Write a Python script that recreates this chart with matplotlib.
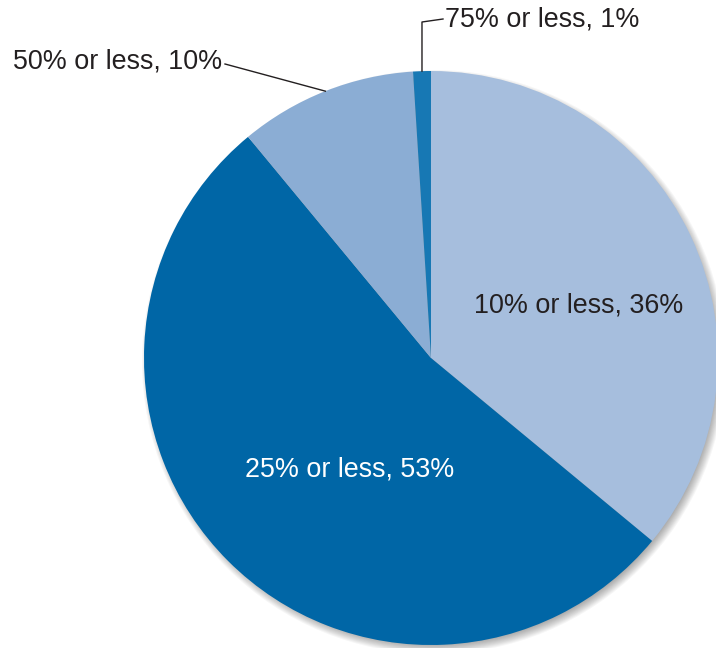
import numpy as np
import matplotlib
matplotlib.use("Agg")
import matplotlib.pyplot as plt

plt.rcParams['font.family'] = ['Liberation Sans', 'DejaVu Sans']

categories = ["10% or less", "25% or less", "50% or less", "75% or less"]
shares = [36, 53, 10, 1]
colors = ["#a6bedd", "#0066a6", "#8badd4", "#1778b4"]
text_color = "#231f20"

W, H = 716, 648
cx, cy, r = 431, 290, 287

fig = plt.figure(figsize=(W / 100, H / 100), dpi=100)
ax = fig.add_axes([0, 0, 1, 1])

# soft drop shadow toward the lower right
for k in range(10):
    ax.add_patch(plt.Circle((cx + 3, cy - 4), r + 5 - k, color="black",
                            alpha=0.035, lw=0, zorder=0))

wedges, _ = ax.pie(shares, colors=colors, startangle=90, counterclock=False,
                   center=(cx, cy), radius=r, frame=True,
                   wedgeprops=dict(linewidth=0))
for w in wedges:
    w.set_zorder(2)
ax.set_xlim(0, W)
ax.set_ylim(0, H)
ax.set_aspect("equal")
ax.axis("off")

fs = 19.4
labels = [f"{c}, {s}%" for c, s in zip(categories, shares)]

ax.text(579, H - 306, labels[0], fontsize=fs, color=text_color,
        ha="center", va="center", zorder=3)
ax.text(350, H - 469, labels[1], fontsize=fs, color="white",
        ha="center", va="center", zorder=3)


def rim_point(w):
    mid = np.deg2rad((w.theta1 + w.theta2) / 2)
    return cx + r * np.cos(mid), cy + r * np.sin(mid)


# leader for the 10% slice
px, py = rim_point(wedges[2])
ax.plot([px, 225], [py, H - 64], color=text_color, lw=1, zorder=3)
ax.text(222, H - 62, labels[2], fontsize=fs, color=text_color,
        ha="right", va="center", zorder=3)

# leader for the 1% slice
px, py = rim_point(wedges[3])
ax.plot([px, px, 443], [py, H - 22, H - 19], color=text_color, lw=1, zorder=3)
ax.text(445, H - 19, labels[3], fontsize=fs, color=text_color,
        ha="left", va="center", zorder=3)

fig.savefig("out.png", dpi=100)
